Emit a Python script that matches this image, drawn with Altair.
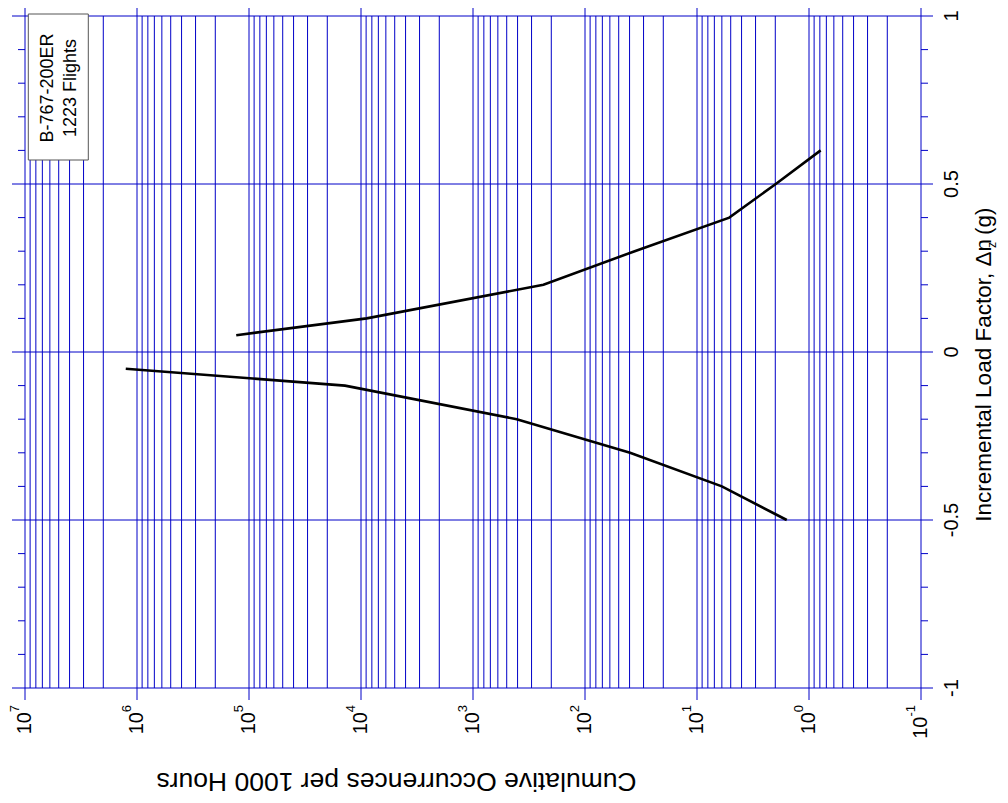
import altair as alt
import pandas as pd

# ---- data ----
upper_dn = [0.05, 0.1, 0.2, 0.3, 0.4, 0.5, 0.6]
upper_occ = [1.3e5, 8.9e3, 235, 36, 5.15, 1.98, 0.787]
lower_dn = [-0.05, -0.1, -0.2, -0.3, -0.4, -0.5]
lower_occ = [1.26e6, 1.39e4, 407, 39.6, 6.0, 1.58]

decade_exps = [7, 6, 5, 4, 3, 2, 1, 0, -1]
minor_mults = [2, 3, 4, 5, 6, 7, 8, 9]
y_major = [-1, -0.5, 0, 0.5, 1]
y_major_labels = ["-1", "-0.5", "0", "0.5", "1"]
y_minor = [-0.9, -0.8, -0.7, -0.6, -0.4, -0.3, -0.2, -0.1,
           0.1, 0.2, 0.3, 0.4, 0.6, 0.7, 0.8, 0.9]

box_lines = ["B-767-200ER", "1223 Flights"]
x_title = "Cumulative Occurrences per 1000 Hours"
y_title_main = "Incremental Load Factor,  \u0394n"
y_title_sub = "z"
y_title_tail = "(g)"

# ---- layout constants ----
W, H = 896, 672
FONT = "Liberation Sans"
GRID = "#0000c8"

xs = alt.Scale(type="log", domain=[0.1, 1e7], reverse=True, nice=False)
ys = alt.Scale(type="linear", domain=[-1, 1], nice=False, zero=False)

majors = pd.DataFrame({"v": [10.0 ** e for e in decade_exps],
                       "e": [str(e) for e in decade_exps]})
minors = pd.DataFrame({"v": [m * 10.0 ** e for e in decade_exps[1:] for m in minor_mults]})
ymaj = pd.DataFrame({"v": y_major, "lab": y_major_labels})
ymin = pd.DataFrame({"v": y_minor})

lines = pd.DataFrame({
    "occ": upper_occ + lower_occ,
    "dn": upper_dn + lower_dn,
    "s": ["upper"] * len(upper_dn) + ["lower"] * len(lower_dn),
    "o": list(range(len(upper_dn))) + list(range(len(lower_dn))),
})

one = pd.DataFrame({"a": [0]})

X = lambda: alt.X("v:Q", scale=xs, axis=None)
Y = lambda: alt.Y("v:Q", scale=ys, axis=None)

minor_v = alt.Chart(minors).mark_rule(color=GRID, strokeWidth=1).encode(
    x=X(), y=alt.value(0), y2=alt.value(H))
major_v = alt.Chart(majors).mark_rule(color=GRID, strokeWidth=1).encode(
    x=X(), y=alt.value(-12), y2=alt.value(H + 12))
major_h = alt.Chart(ymaj).mark_rule(color=GRID, strokeWidth=1).encode(
    y=Y(), x=alt.value(-13), x2=alt.value(W + 12))
minor_l = alt.Chart(ymin).mark_rule(color=GRID, strokeWidth=1).encode(
    y=Y(), x=alt.value(-7), x2=alt.value(0))
minor_r = alt.Chart(ymin).mark_rule(color=GRID, strokeWidth=1).encode(
    y=Y(), x=alt.value(W), x2=alt.value(W + 7))

curves = alt.Chart(lines).mark_line(color="black", strokeWidth=2.6).encode(
    x=alt.X("occ:Q", scale=xs, axis=None),
    y=alt.Y("dn:Q", scale=ys, axis=None),
    detail="s:N",
    order="o:Q",
)

box = alt.Chart(one).mark_rect(fill="white", stroke="#555555", strokeWidth=1).encode(
    x=alt.value(3.3), x2=alt.value(63.3), y=alt.value(-2), y2=alt.value(144))
box_t1 = alt.Chart(one).mark_text(angle=270, align="center", baseline="middle",
                                  fontSize=18, font=FONT, color="black").encode(
    x=alt.value(23), y=alt.value(72), text=alt.value(box_lines[0]))
box_t2 = alt.Chart(one).mark_text(angle=270, align="center", baseline="middle",
                                  fontSize=18, font=FONT, color="black").encode(
    x=alt.value(46), y=alt.value(72), text=alt.value(box_lines[1]))

pos_maj = majors[majors["v"] >= 1]
neg_maj = majors[majors["v"] < 1]

base_pos = alt.Chart(pos_maj).mark_text(angle=270, align="right", baseline="middle",
                                        fontSize=20, font=FONT, color="black").encode(
    x=X(), y=alt.value(696), text=alt.value("10"))
base_neg = alt.Chart(neg_maj).mark_text(angle=270, align="right", baseline="middle",
                                        fontSize=20, font=FONT, color="black").encode(
    x=X(), y=alt.value(700.5), text=alt.value("10"))
expo = alt.Chart(majors).mark_text(angle=270, align="right", baseline="middle",
                                   fontSize=13, font=FONT, color="black", dy=-10).encode(
    x=X(), y=alt.value(689), text="e:N")

ylabs = alt.Chart(ymaj).mark_text(angle=270, align="center", baseline="middle",
                                  fontSize=20, font=FONT, color="black").encode(
    y=Y(), x=alt.value(927), text="lab:N")

yt_main = alt.Chart(one).mark_text(angle=270, align="left", baseline="middle",
                                   fontSize=22.5, font=FONT, color="black").encode(
    x=alt.value(959), y=alt.value(505.7), text=alt.value(y_title_main))
yt_sub = alt.Chart(one).mark_text(angle=270, align="center", baseline="middle",
                                  fontSize=12, font=FONT, color="black").encode(
    x=alt.value(967), y=alt.value(229), text=alt.value(y_title_sub))
yt_tail = alt.Chart(one).mark_text(angle=270, align="left", baseline="middle",
                                   fontSize=22.5, font=FONT, color="black").encode(
    x=alt.value(959), y=alt.value(219), text=alt.value(y_title_tail))

xt = alt.Chart(one).mark_text(angle=180, align="center", baseline="middle",
                              fontSize=26.5, font=FONT, color="black").encode(
    x=alt.value(371.5), y=alt.value(765), text=alt.value(x_title))

chart = alt.layer(
    minor_v, major_v, major_h, minor_l, minor_r, curves,
    box, box_t1, box_t2, base_pos, base_neg, expo, ylabs,
    yt_main, yt_sub, yt_tail, xt,
).properties(
    width=W, height=H,
    autosize=alt.AutoSizeParams(type="none"),
    padding={"left": 17, "top": 8, "right": 79, "bottom": 110},
    background="white",
).configure_view(stroke=None)

chart.save("out.html", embed_options={"renderer": "svg", "actions": False})
